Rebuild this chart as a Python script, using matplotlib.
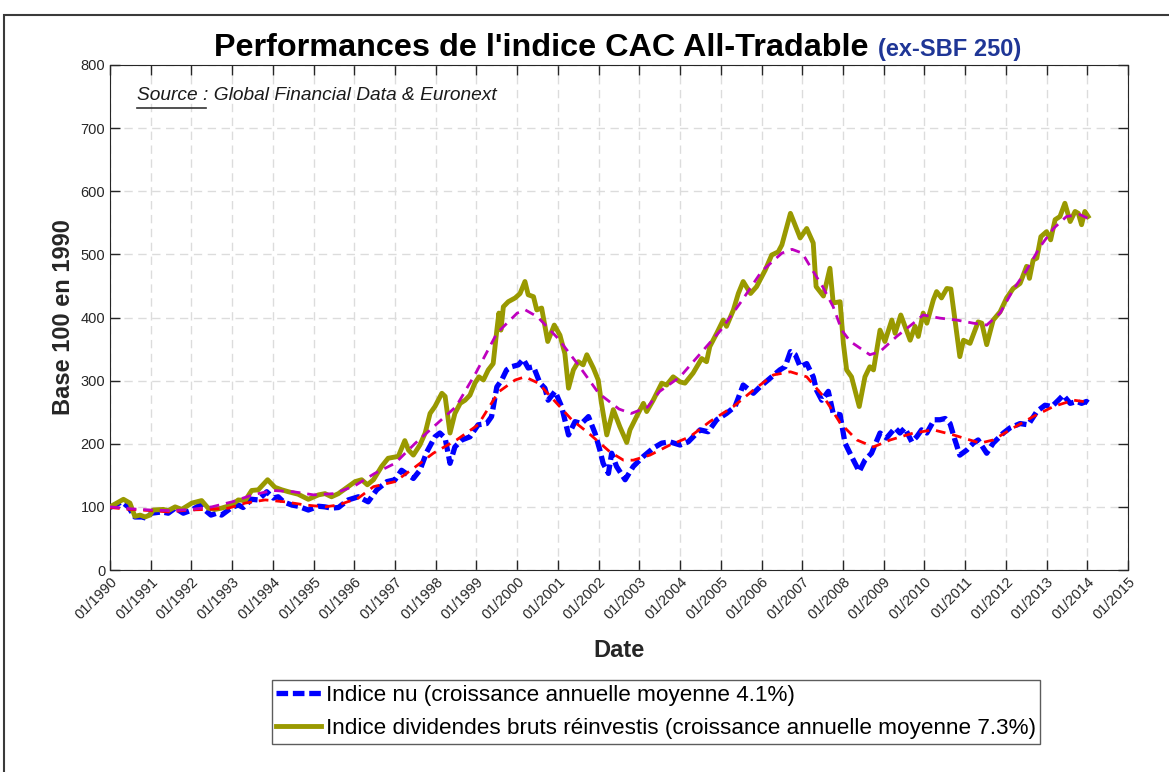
import numpy as np
import matplotlib.pyplot as plt
from matplotlib.patches import Rectangle

plt.rcParams['font.family'] = ['Liberation Sans', 'DejaVu Sans']

# indice dividendes bruts reinvestis (olive)
gross_years = [1990.00, 1990.33, 1990.49, 1990.61, 1990.74, 1990.86, 1990.98, 1991.06, 1991.31, 1991.43,
               1991.60, 1991.76, 1992.01, 1992.25, 1992.41, 1992.58, 1992.74, 1992.99, 1993.15, 1993.32,
               1993.48, 1993.64, 1993.87, 1994.05, 1994.22, 1994.38, 1994.62, 1994.87, 1995.12, 1995.28,
               1995.44, 1995.61, 1995.85, 1996.02, 1996.18, 1996.32, 1996.47, 1996.67, 1996.83, 1997.08,
               1997.24, 1997.33, 1997.45, 1997.61, 1997.74, 1997.86, 1997.98, 1998.15, 1998.23, 1998.35,
               1998.47, 1998.60, 1998.72, 1998.84, 1998.96, 1999.06, 1999.17, 1999.29, 1999.41, 1999.50,
               1999.55, 1999.60, 1999.66, 1999.78, 1999.95, 2000.07, 2000.19, 2000.27, 2000.40, 2000.48,
               2000.60, 2000.75, 2000.91, 2001.05, 2001.17, 2001.26, 2001.38, 2001.50, 2001.62, 2001.71,
               2001.87, 2001.99, 2002.07, 2002.20, 2002.36, 2002.52, 2002.69, 2002.77, 2002.97, 2003.10,
               2003.18, 2003.34, 2003.55, 2003.67, 2003.83, 2004.00, 2004.12, 2004.32, 2004.53, 2004.65,
               2004.73, 2004.90, 2005.06, 2005.14, 2005.31, 2005.43, 2005.55, 2005.73, 2005.88, 2006.09,
               2006.25, 2006.41, 2006.50, 2006.71, 2006.95, 2007.11, 2007.27, 2007.34, 2007.52, 2007.68,
               2007.76, 2007.93, 2008.01, 2008.09, 2008.21, 2008.40, 2008.54, 2008.66, 2008.75, 2008.91,
               2009.03, 2009.20, 2009.28, 2009.42, 2009.65, 2009.77, 2009.85, 2009.97, 2010.06, 2010.22,
               2010.30, 2010.42, 2010.55, 2010.65, 2010.75, 2010.87, 2010.96, 2011.12, 2011.32, 2011.41,
               2011.53, 2011.69, 2011.86, 2012.02, 2012.18, 2012.35, 2012.51, 2012.58, 2012.67, 2012.76,
               2012.86, 2013.00, 2013.10, 2013.21, 2013.33, 2013.45, 2013.58, 2013.70, 2013.78, 2013.86,
               2013.94, 2014.02]
gross_vals = [100, 112, 106, 85, 87, 84, 87, 95, 96, 94,
              100, 96, 106, 110, 98, 96, 98, 103, 111, 110,
              126, 127, 143, 131, 127, 124, 120, 112, 119, 121,
              116, 121, 132, 140, 143, 135, 143, 164, 177, 180,
              205, 190, 182, 198, 217, 248, 259, 280, 275, 217,
              248, 264, 269, 277, 296, 306, 301, 317, 327, 380,
              407, 380, 417, 425, 431, 438, 457, 436, 433, 412,
              415, 362, 388, 372, 343, 288, 317, 330, 325, 341,
              320, 301, 264, 214, 254, 227, 202, 222, 248, 264,
              251, 269, 296, 293, 306, 298, 296, 312, 335, 330,
              354, 375, 396, 386, 412, 438, 457, 438, 449, 475,
              499, 504, 515, 565, 526, 541, 518, 449, 434, 478,
              423, 425, 359, 317, 306, 259, 306, 322, 317, 380,
              362, 396, 375, 404, 364, 386, 370, 407, 391, 428,
              441, 431, 446, 445, 396, 338, 364, 359, 393, 391,
              357, 396, 409, 431, 446, 454, 481, 462, 491, 494,
              528, 536, 523, 555, 560, 581, 552, 568, 565, 547,
              568, 560]

# indice nu (bleu)
net_years = [1990.00, 1990.29, 1990.45, 1990.61, 1990.78, 1990.90, 1991.02, 1991.27, 1991.43, 1991.60,
             1991.80, 1992.01, 1992.21, 1992.33, 1992.48, 1992.62, 1992.74, 1992.99, 1993.15, 1993.27,
             1993.48, 1993.64, 1993.85, 1994.01, 1994.13, 1994.26, 1994.46, 1994.62, 1994.87, 1995.12,
             1995.28, 1995.44, 1995.61, 1995.85, 1996.10, 1996.34, 1996.55, 1996.80, 1997.00, 1997.16,
             1997.45, 1997.61, 1997.78, 1997.98, 1998.10, 1998.23, 1998.35, 1998.47, 1998.64, 1998.84,
             1999.04, 1999.25, 1999.37, 1999.50, 1999.62, 1999.74, 1999.86, 2000.03, 2000.15, 2000.27,
             2000.40, 2000.56, 2000.68, 2000.76, 2000.93, 2001.09, 2001.26, 2001.42, 2001.58, 2001.75,
             2001.91, 2002.03, 2002.11, 2002.24, 2002.32, 2002.44, 2002.65, 2002.85, 2003.10, 2003.34,
             2003.55, 2003.75, 2004.00, 2004.20, 2004.49, 2004.69, 2004.90, 2005.14, 2005.35, 2005.55,
             2005.80, 2005.96, 2006.25, 2006.45, 2006.58, 2006.71, 2006.83, 2006.95, 2007.11, 2007.27,
             2007.35, 2007.48, 2007.64, 2007.76, 2007.93, 2008.05, 2008.21, 2008.40, 2008.54, 2008.70,
             2008.91, 2009.07, 2009.28, 2009.40, 2009.52, 2009.69, 2009.81, 2009.93, 2010.06, 2010.24,
             2010.38, 2010.51, 2010.63, 2010.75, 2010.87, 2011.04, 2011.20, 2011.32, 2011.53, 2011.69,
             2011.94, 2012.10, 2012.35, 2012.55, 2012.76, 2012.96, 2013.13, 2013.29, 2013.41, 2013.58,
             2013.74, 2013.86, 2013.98, 2014.02]
net_vals = [99, 108, 100, 84, 84, 82, 90, 92, 90, 98,
            90, 95, 103, 95, 87, 90, 87, 99, 103, 99,
            112, 111, 124, 114, 116, 108, 103, 101, 95, 101,
            100, 98, 99, 111, 116, 108, 127, 140, 143, 158,
            145, 158, 187, 211, 217, 209, 169, 195, 206, 211,
            230, 232, 243, 290, 301, 317, 322, 325, 334, 320,
            322, 296, 288, 269, 283, 259, 214, 235, 232, 243,
            217, 190, 169, 153, 185, 164, 143, 164, 180, 193,
            201, 203, 198, 203, 222, 219, 238, 248, 259, 293,
            280, 290, 306, 317, 322, 346, 341, 322, 327, 306,
            285, 269, 283, 248, 246, 201, 180, 156, 174, 185,
            217, 209, 225, 217, 225, 203, 211, 222, 217, 238,
            238, 240, 232, 206, 182, 190, 201, 206, 185, 201,
            217, 225, 232, 230, 251, 261, 259, 269, 277, 264,
            267, 264, 267, 265]

# tendances lissees
trend_gross_years = [1990.0, 1990.5, 1991.0, 1991.5, 1992.0, 1992.5, 1993.0, 1993.5, 1994.0, 1994.5,
                     1995.0, 1995.5, 1996.0, 1996.5, 1997.0, 1997.5, 1998.0, 1998.5, 1999.0, 1999.5,
                     2000.0, 2000.2, 2000.5, 2001.0, 2001.5, 2002.0, 2002.5, 2002.8, 2003.2, 2003.5,
                     2004.0, 2004.5, 2005.0, 2005.5, 2006.0, 2006.5, 2006.75, 2007.0, 2007.25, 2007.5,
                     2007.76, 2007.97, 2008.18, 2008.66, 2008.91, 2009.32, 2009.73, 2009.97, 2010.38, 2010.79,
                     2011.20, 2011.53, 2011.86, 2012.18, 2012.51, 2012.84, 2013.17, 2013.49, 2013.82, 2014.02]
trend_gross_vals = [100, 97, 95, 94, 96, 100, 108, 119, 126, 124,
                    119, 121, 133, 153, 169, 201, 230, 259, 314, 375,
                    407, 412, 401, 367, 325, 280, 255, 248, 258, 283,
                    306, 343, 380, 425, 473, 502, 508, 502, 475, 449,
                    417, 380, 362, 341, 346, 370, 391, 404, 399, 396,
                    391, 388, 407, 444, 475, 512, 541, 560, 563, 557]

trend_net_years = [1990.00, 1990.49, 1991.02, 1991.43, 1991.92, 1992.41, 1992.91, 1993.32, 1993.81, 1994.30,
                   1994.79, 1995.28, 1995.61, 1996.10, 1996.47, 1997.00, 1997.45, 1997.94, 1998.51, 1999.04,
                   1999.54, 1999.95, 2000.19, 2000.52, 2000.93, 2001.34, 2001.75, 2002.28, 2002.61, 2002.85,
                   2003.26, 2003.75, 2004.24, 2004.73, 2005.31, 2005.80, 2006.29, 2006.71, 2007.11, 2007.52,
                   2007.93, 2008.34, 2008.75, 2009.16, 2009.73, 2010.22, 2010.71, 2011.37, 2011.69, 2012.18,
                   2012.67, 2013.17, 2013.66, 2014.02]
trend_net_vals = [99, 96, 94, 92, 95, 96, 98, 106, 111, 108,
                  103, 100, 103, 114, 132, 140, 161, 185, 206, 230,
                  282, 301, 306, 296, 267, 238, 217, 187, 174, 174,
                  182, 198, 211, 235, 259, 285, 309, 314, 306, 275,
                  233, 206, 195, 206, 217, 222, 214, 201, 206, 225,
                  243, 259, 269, 266]

years = list(range(1990, 2016))
year_labels = ['01/%d' % y for y in years]

fig = plt.figure(figsize=(11.69, 7.72), dpi=100)
fig.patches.append(Rectangle((4 / 1169, -0.1), 2.0, 1.1 - 15 / 772, transform=fig.transFigure,
                             fill=False, edgecolor='#3a3a3a', linewidth=1.5))

ax = fig.add_axes([110 / 1169, 1 - 570 / 772, 1018 / 1169, 505 / 772])

l_net, = ax.plot(net_years, net_vals, color='#0000ff', lw=3.8, dashes=(2.2, 0.9),
                 solid_capstyle='butt', dash_capstyle='butt', zorder=3)
l_gross, = ax.plot(gross_years, gross_vals, color='#999900', lw=3.5, zorder=3)
ax.plot(trend_net_years, trend_net_vals, color='#ff0000', lw=2.0, dashes=(3.5, 2.5), zorder=4)
ax.plot(trend_gross_years, trend_gross_vals, color='#bf00bf', lw=2.0, dashes=(3.5, 2.5), zorder=4)

ax.set_xlim(1990, 2015)
ax.set_ylim(0, 800)
ax.set_xticks(years)
ax.set_xticklabels(year_labels, rotation=45, ha='right', rotation_mode='anchor', fontsize=10.5)
ax.set_yticks(range(0, 801, 100))
ax.tick_params(axis='y', labelsize=10.5)
ax.tick_params(direction='in', length=7, width=1, top=True, right=True, colors='#262626',
               labelcolor='#262626')
for s in ax.spines.values():
    s.set_color('#262626')
ax.grid(True, color='#dcdcdc', linestyle=(0, (6, 4)), linewidth=1.0)
ax.set_axisbelow(True)

ax.set_xlabel('Date', fontsize=17, fontweight='bold', color='#262626', labelpad=12)
ax.set_ylabel('Base 100 en 1990', fontsize=17, fontweight='bold', color='#262626', labelpad=4)

ax.text(0.027, 0.931, 'Source : Global Financial Data & Euronext', transform=ax.transAxes,
        fontsize=13.8, style='italic', color='#1a1a1a', va='baseline')
ax.plot([0.027, 0.094], [0.915, 0.915], transform=ax.transAxes, color='#333333', lw=1.2, clip_on=False)

fig.text(868 / 1169, 1 - 56 / 772, "Performances de l'indice CAC All-Tradable", fontsize=23.3,
         fontweight='bold', ha='right', va='baseline', color='black')
fig.text(878 / 1169, 1 - 56 / 772, '(ex-SBF 250)', fontsize=17, fontweight='bold', ha='left',
         va='baseline', color='#1f3696')

leg = fig.legend([l_net, l_gross],
                 ['Indice nu (croissance annuelle moyenne 4.1%)',
                  'Indice dividendes bruts réinvestis (croissance annuelle moyenne 7.3%)'],
                 loc='center', bbox_to_anchor=(656 / 1169, 1 - 712 / 772), fontsize=16.2,
                 frameon=True, fancybox=False, edgecolor='#333333', handlelength=2.0,
                 handletextpad=0.2, borderpad=0.2, labelspacing=0.55)
leg.get_frame().set_linewidth(1.0)

fig.savefig('out.png', dpi=100)
